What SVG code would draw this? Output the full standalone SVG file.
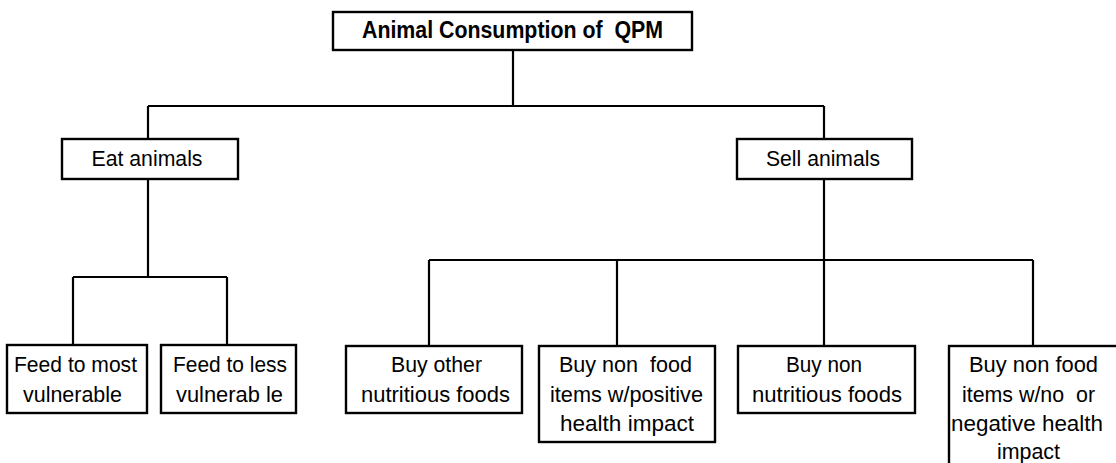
<svg xmlns="http://www.w3.org/2000/svg" width="1116" height="463" viewBox="0 0 1116 463" xml:space="preserve">
<style>
.box{fill:#fff;stroke:#000;stroke-width:2.4}
.ln{stroke:#000;stroke-width:2.2;fill:none}
text{font-family:"Liberation Sans",Arial,sans-serif;fill:#000;text-anchor:middle;white-space:pre}
.t{font-size:22px}
.m{font-size:22px}
.b{font-size:23px;font-weight:bold}
</style>
<rect width="1116" height="463" fill="#fff"/>
<g id="connectors">
<path class="ln" d="M513 50V106M148 106H824M148 106V139M824 106V139"/>
<path class="ln" d="M148 179V277M73 277H227M73 277V345M227 277V345"/>
<path class="ln" d="M824 179V346M429 260H1033M429 260V346M617 260V346M1033 260V346"/>
</g>
<g id="root">
<rect class="box" x="333" y="12" width="359" height="38"/>
<text class="b" x="512.5" y="38" textLength="301" lengthAdjust="spacingAndGlyphs">Animal Consumption of  QPM</text>
</g>
<g id="eat">
<rect class="box" x="62" y="139" width="176" height="40"/>
<text class="m" x="147" y="166" textLength="111" lengthAdjust="spacingAndGlyphs">Eat animals</text>
</g>
<g id="sell">
<rect class="box" x="737" y="139" width="175" height="40"/>
<text class="m" x="823" y="166" textLength="114" lengthAdjust="spacingAndGlyphs">Sell animals</text>
</g>
<g id="feed-most">
<rect class="box" x="7" y="345" width="140" height="68"/>
<text class="t" x="75.5" y="372" textLength="123" lengthAdjust="spacingAndGlyphs">Feed to most</text>
<text class="t" x="72.5" y="401.5" textLength="99" lengthAdjust="spacingAndGlyphs">vulnerable</text>
</g>
<g id="feed-less">
<rect class="box" x="161" y="345" width="135" height="68"/>
<text class="t" x="230" y="372" textLength="114" lengthAdjust="spacingAndGlyphs">Feed to less</text>
<text class="t" x="229.5" y="401.5" textLength="107" lengthAdjust="spacingAndGlyphs">vulnerab le</text>
</g>
<g id="buy-nutritious">
<rect class="box" x="346" y="346" width="176" height="67"/>
<text class="t" x="436.5" y="372" textLength="91" lengthAdjust="spacingAndGlyphs">Buy other</text>
<text class="t" x="435.5" y="401.5" textLength="149" lengthAdjust="spacingAndGlyphs">nutritious foods</text>
</g>
<g id="buy-nonfood-positive">
<rect class="box" x="539" y="346" width="176" height="96"/>
<text class="t" x="625.5" y="372" textLength="133" lengthAdjust="spacingAndGlyphs">Buy non  food</text>
<text class="t" x="626.5" y="401.5" textLength="153" lengthAdjust="spacingAndGlyphs">items w/positive</text>
<text class="t" x="627" y="431" textLength="134" lengthAdjust="spacingAndGlyphs">health impact</text>
</g>
<g id="buy-non-nutritious">
<rect class="box" x="738" y="346" width="177" height="67"/>
<text class="t" x="824" y="372" textLength="76" lengthAdjust="spacingAndGlyphs">Buy non</text>
<text class="t" x="827" y="401.5" textLength="150" lengthAdjust="spacingAndGlyphs">nutritious foods</text>
</g>
<g id="buy-nonfood-negative">
<rect class="box" x="949" y="346" width="190" height="140"/>
<text class="t" x="1033.5" y="372" textLength="129" lengthAdjust="spacingAndGlyphs">Buy non food</text>
<text class="t" x="1028.5" y="401.5" textLength="133" lengthAdjust="spacingAndGlyphs">items w/no  or</text>
<text class="t" x="1027" y="431" textLength="152" lengthAdjust="spacingAndGlyphs">negative health</text>
<text class="t" x="1028.5" y="459" textLength="63" lengthAdjust="spacingAndGlyphs">impact</text>
</g>
</svg>
